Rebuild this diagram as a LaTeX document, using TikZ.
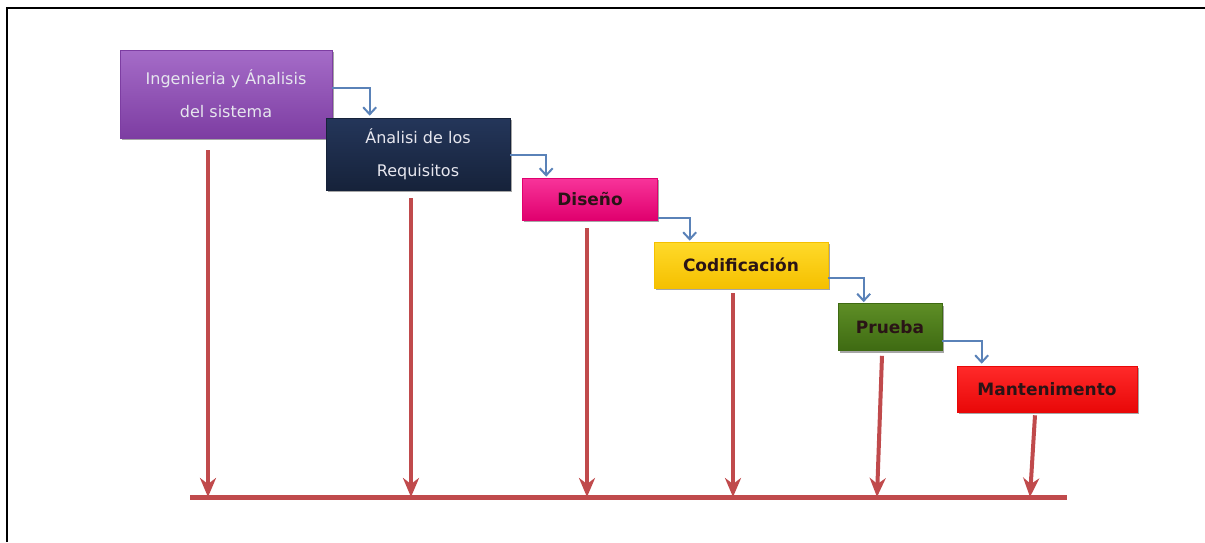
\documentclass[tikz,border=0pt]{standalone}
\usepackage{fontspec}
\setmainfont{DejaVu Sans}
\usetikzlibrary{arrows.meta,shadows,calc}

\definecolor{purpleT}{HTML}{A56CC8}
\definecolor{purpleB}{HTML}{7D3DA2}
\definecolor{navyT}{HTML}{24365A}
\definecolor{navyB}{HTML}{16223A}
\definecolor{pinkT}{HTML}{F8349A}
\definecolor{pinkB}{HTML}{E0006E}
\definecolor{yellowT}{HTML}{FFDA2A}
\definecolor{yellowB}{HTML}{F5C000}
\definecolor{greenT}{HTML}{5E8E26}
\definecolor{greenB}{HTML}{3E6A12}
\definecolor{redT}{HTML}{FF2A2A}
\definecolor{redB}{HTML}{E80808}
\definecolor{flowblue}{HTML}{5A82B8}
\definecolor{dropred}{HTML}{C04A4C}
\definecolor{textlight}{HTML}{E6E6EE}
\definecolor{textdark}{HTML}{2A1416}

\begin{document}
\begin{tikzpicture}[x=1pt,y=-1pt,
  stage/.style={rectangle, inner sep=0pt, align=center, line width=0.6pt,
    drop shadow={shadow xshift=1.5pt, shadow yshift=-2pt, opacity=0.35, fill=black}},
  lighttext/.style={font=\fontsize{16}{33}\selectfont, text=textlight},
  boldtext/.style={font=\fontsize{17}{20}\selectfont\bfseries, text=textdark},
  flow/.style={draw=flowblue, line width=2pt, -{Straight Barb[length=7pt,width=13pt]}},
  drop/.style={draw=dropred, line width=4pt, -{Stealth[length=19pt,width=16pt,inset=6pt]}},
  baseline/.style={draw=dropred, line width=5pt}]

\useasboundingbox (0,0) rectangle (1205,542);

% frame
\draw[line width=2pt, black] (7,542) -- (7,8) -- (1205,8);

% stages
\node[stage, lighttext, minimum width=212pt, minimum height=88pt,
      top color=purpleT, bottom color=purpleB, draw=purpleB] (ing) at (226,94)
      {Ingenieria y Ánalisis\\del sistema};
\node[stage, lighttext, minimum width=184pt, minimum height=72pt,
      top color=navyT, bottom color=navyB, draw=navyB] (req) at (418,154)
      {Ánalisi de los\\Requisitos};
\node[stage, boldtext, minimum width=135pt, minimum height=42pt,
      top color=pinkT, bottom color=pinkB, draw=pinkB] (dis) at (590,199) {Diseño};
\node[stage, boldtext, minimum width=174pt, minimum height=46pt,
      top color=yellowT, bottom color=yellowB, draw=yellowB] (cod) at (741,265) {Codificación};
\node[stage, boldtext, minimum width=104pt, minimum height=47pt,
      top color=greenT, bottom color=greenB, draw=greenB] (pru) at (890,327) {Prueba};
\node[stage, boldtext, minimum width=180pt, minimum height=46pt,
      top color=redT, bottom color=redB, draw=redB] (man) at (1047,389) {Mantenimento};

% flow between stages
\draw[flow] ([yshift=6pt]ing.east) -| ([xshift=44pt,yshift=2pt]req.north west);
\draw[flow] ([yshift=-1pt]req.east) -| ([xshift=24pt,yshift=1pt]dis.north west);
\draw[flow] ([yshift=-19pt]dis.east) -| ([xshift=36pt,yshift=1pt]cod.north west);
\draw[flow] ([yshift=-13pt]cod.east) -| ([xshift=26pt,yshift=1pt]pru.north west);
\draw[flow] ([yshift=-14pt]pru.east) -| ([xshift=25pt,yshift=2pt]man.north west);

% common base line
\coordinate (baseL) at (190,497);
\coordinate (baseR) at (1067,497);
\draw[baseline] (baseL) -- (baseR);

% drops to the base line
\draw[drop] ([xshift=-18pt,yshift=-12pt]ing.south) -- ([xshift=-18pt]ing.south |- baseL);
\draw[drop] ([xshift=-7pt,yshift=-8pt]req.south) -- ([xshift=-7pt]req.south |- baseL);
\draw[drop] ([xshift=-3pt,yshift=-8pt]dis.south) -- ([xshift=-3pt]dis.south |- baseL);
\draw[drop] ([xshift=-8pt,yshift=-5pt]cod.south) -- ([xshift=-8pt]cod.south |- baseL);
\draw[drop] ([xshift=-8pt,yshift=-5pt]pru.south) -- ([xshift=-13pt]pru.south |- baseL);
\draw[drop] ([xshift=-12pt,yshift=-3pt]man.south) -- ([xshift=-17pt]man.south |- baseL);

\end{tikzpicture}
\end{document}
